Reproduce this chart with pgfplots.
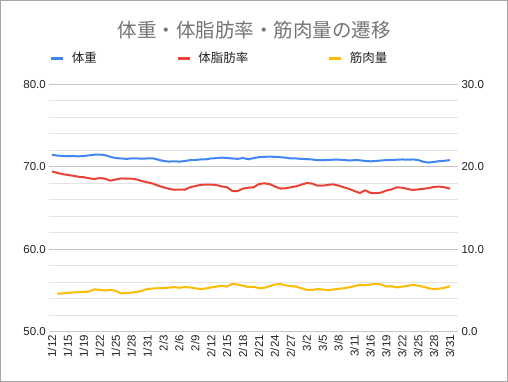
\documentclass[border=0pt]{standalone}
\usepackage{pgfplots}
\usepackage{pgfplotstable}
\pgfplotsset{compat=1.18}
\usepackage{fontspec}
\setmainfont{Liberation Sans}
\newfontfamily\cjk{Noto Sans CJK JP}
\definecolor{cblue}{HTML}{4285F4}
\definecolor{cred}{HTML}{EA4335}
\definecolor{cyellow}{HTML}{FBBC04}
\definecolor{ctitle}{HTML}{757575}
\definecolor{gmaj}{HTML}{C6C6C6}
\definecolor{gmin}{HTML}{E4E4E4}
\definecolor{ctext}{HTML}{222222}

\pgfplotstableread{
i blue red yellow
0 71.45 19.43 nan
1 71.35 19.25 54.58
2 71.30 19.10 54.62
3 71.28 19.00 54.70
4 71.30 18.90 54.74
5 71.25 18.78 54.77
6 71.30 18.72 54.80
7 71.38 18.60 54.85
8 71.45 18.50 55.12
9 71.48 18.62 55.05
10 71.40 18.55 54.98
11 71.20 18.30 55.05
12 71.05 18.45 54.95
13 71.00 18.58 54.62
14 70.95 18.55 54.68
15 71.00 18.55 54.72
16 71.00 18.45 54.80
17 70.98 18.25 54.95
18 71.00 18.10 55.15
19 71.02 17.95 55.22
20 70.85 17.70 55.25
21 70.70 17.50 55.27
22 70.62 17.32 55.32
23 70.65 17.20 55.39
24 70.62 17.22 55.30
25 70.68 17.20 55.39
26 70.80 17.50 55.35
27 70.82 17.65 55.25
28 70.88 17.80 55.15
29 70.90 17.82 55.22
30 71.00 17.82 55.35
31 71.05 17.78 55.45
32 71.10 17.60 55.55
33 71.05 17.50 55.45
34 71.00 17.05 55.78
35 70.95 17.05 55.70
36 71.05 17.35 55.55
37 70.90 17.45 55.40
38 71.05 17.50 55.42
39 71.15 17.90 55.27
40 71.20 17.98 55.30
41 71.22 17.90 55.50
42 71.20 17.60 55.70
43 71.15 17.35 55.75
44 71.10 17.38 55.60
45 71.00 17.50 55.50
46 71.00 17.62 55.45
47 70.95 17.82 55.25
48 70.92 18.02 55.06
49 70.88 17.95 55.05
50 70.80 17.70 55.14
51 70.78 17.70 55.10
52 70.82 17.80 55.02
53 70.85 17.86 55.10
54 70.85 17.70 55.18
55 70.82 17.50 55.25
56 70.75 17.30 55.35
57 70.80 17.05 55.50
58 70.78 16.80 55.67
59 70.70 17.15 55.60
60 70.65 16.82 55.70
61 70.70 16.80 55.79
62 70.75 16.85 55.70
63 70.80 17.10 55.45
64 70.82 17.25 55.50
65 70.85 17.50 55.35
66 70.88 17.45 55.45
67 70.85 17.30 55.55
68 70.88 17.17 55.67
69 70.80 17.25 55.55
70 70.60 17.32 55.43
71 70.50 17.40 55.25
72 70.58 17.55 55.15
73 70.68 17.58 55.20
74 70.72 17.50 55.30
75 70.80 17.34 55.50
}\datatable

\pgfplotsset{
  common/.style={
    scale only axis, width=408.7bp, height=247.2bp,
    at={(49.3bp,50.5bp)}, anchor=south west,
    xmin=-0.5, xmax=76.5,
    axis line style={draw=none}, tick style={draw=none},
    yticklabel style={font=\fontsize{11.5bp}{13bp}\selectfont, text=ctext,
      /pgf/number format/fixed, /pgf/number format/fixed zerofill,
      /pgf/number format/precision=1},
    /pgf/number format/assume math mode=true,
  }
}

\begin{document}
\begin{tikzpicture}
\path[use as bounding box] (0,0) rectangle (508bp,382bp);
\fill[white] (0,0) rectangle (508bp,382bp);
\draw[color=black!35, line width=1bp] (0.5bp,0.5bp) rectangle (507.5bp,381.5bp);
\node[text=ctitle, font=\cjk\fontsize{19.5bp}{22bp}\selectfont] at (254bp,352bp) {体重・体脂肪率・筋肉量の遷移};

\begin{axis}[common,
  ymin=50, ymax=80, ytick={50,60,70,80}, minor ytick={52,54,...,78},
  ymajorgrids, yminorgrids,
  major grid style={gmaj, line width=0.8bp},
  minor grid style={gmin, line width=0.8bp},
  xtick={0,3,...,75},
  xticklabels={1/12,1/15,1/19,1/22,1/25,1/28,1/31,2/3,2/6,2/9,2/12,2/15,2/18,2/21,2/24,2/27,3/2,3/5,3/8,3/11,3/16,3/19,3/22,3/25,3/28,3/31},
  xticklabel style={rotate=90, anchor=east, font=\fontsize{11.5bp}{13bp}\selectfont, text=ctext},
  legend columns=3,
  legend style={draw=none, fill=none, inner sep=0pt, at={(0,1)}, anchor=west, yshift=26bp,
    font=\cjk\fontsize{12.5bp}{14bp}\selectfont, text=ctext,
    /tikz/every odd column/.append style={column sep=5bp},
    /tikz/every even column/.append style={column sep=77bp}},
  legend cell align=left,
  legend image code/.code={\draw[line width=3.5bp] (0bp,0bp) -- (12bp,0bp);},
]
\addplot[cblue, line width=2bp, line join=round] table[x=i, y=blue] {\datatable};
\addlegendentry{体重}
\addlegendimage{cred}
\addlegendentry{体脂肪率}
\addplot[cyellow, line width=2bp, line join=round] table[x=i, y=yellow] {\datatable};
\addlegendentry{筋肉量}
\end{axis}

\begin{axis}[common,
  ymin=0, ymax=30, ytick={0,10,20,30},
  axis y line*=right, axis x line=none,
]
\addplot[cred, line width=2bp, line join=round] table[x=i, y=red] {\datatable};
\end{axis}
\end{tikzpicture}
\end{document}
